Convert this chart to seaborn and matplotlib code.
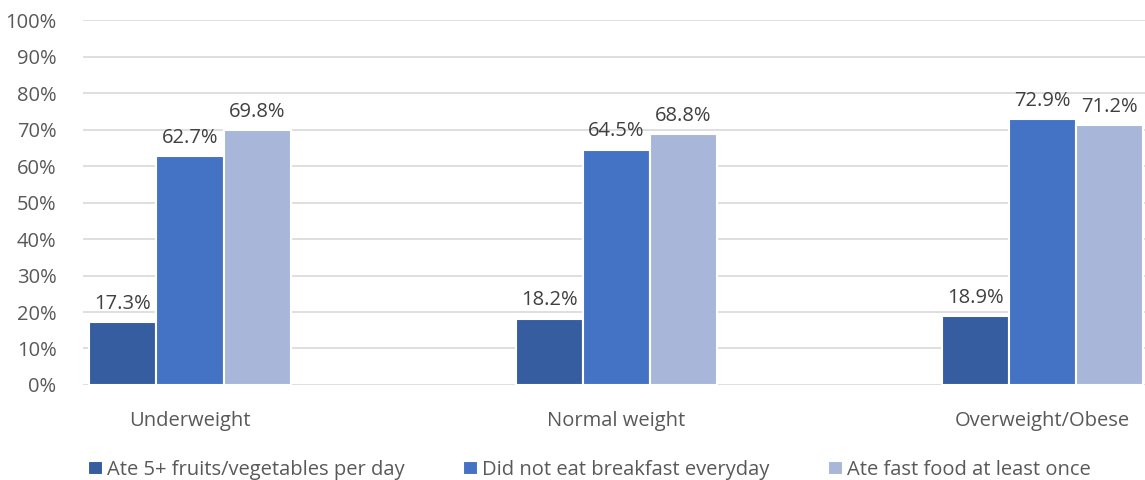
import matplotlib
matplotlib.use("Agg")
import matplotlib.pyplot as plt
import seaborn as sns
import pandas as pd

categories = ["Underweight", "Normal weight", "Overweight/Obese"]
series = ["Ate 5+ fruits/vegetables per day", "Did not eat breakfast everyday", "Ate fast food at least once"]
fruits_veg = [17.3, 18.2, 18.9]
no_breakfast = [62.7, 64.5, 72.9]
fast_food = [69.8, 68.8, 71.2]
yticks = list(range(0, 101, 10))
colors = ["#355D9F", "#4472C4", "#A8B6DA"]

rows = []
for s, vals in zip(series, [fruits_veg, no_breakfast, fast_food]):
    for c, v in zip(categories, vals):
        rows.append({"cat": c, "series": s, "value": v})
df = pd.DataFrame(rows)

sns.set_theme(style="white")
plt.rcParams["font.family"] = ["Open Sans", "DejaVu Sans"]

fig = plt.figure(figsize=(11.45, 4.8), dpi=100)
ax = fig.add_axes([0.0725, 0.198, 0.9275, 0.760])

sns.barplot(data=df, x="cat", y="value", hue="series", order=categories,
            hue_order=series, palette=colors, width=0.472, dodge=True,
            edgecolor="white", linewidth=1.5, saturation=1, ax=ax, legend=True)

for cont in ax.containers:
    ax.bar_label(cont, fmt="%.1f%%", padding=6, fontsize=14.5, color="#404040")

ax.set_ylim(0, 100)
ax.set_xlim(-0.251, 2.24)
ax.set_yticks(yticks)
ax.set_yticklabels([f"{t}%" for t in yticks], fontsize=14.5, color="#595959")
ax.tick_params(axis="x", labelsize=14.5, labelcolor="#595959", length=0, pad=19)
ax.tick_params(axis="y", length=0, pad=19)
ax.set_xlabel("")
ax.set_ylabel("")
ax.grid(axis="y", color="#D9D9D9", linewidth=1.2)
ax.set_axisbelow(True)
for sp in ax.spines.values():
    sp.set_visible(False)

handles, labels = ax.get_legend_handles_labels()
ax.get_legend().remove()
fig.legend(handles, labels, loc="lower center", bbox_to_anchor=(0.515, -0.038), ncol=3,
           frameon=False, fontsize=14.5, handlelength=0.75, handleheight=0.75,
           handletextpad=0.2, columnspacing=2.9, labelcolor="#595959")

fig.savefig("out.png", dpi=100)
